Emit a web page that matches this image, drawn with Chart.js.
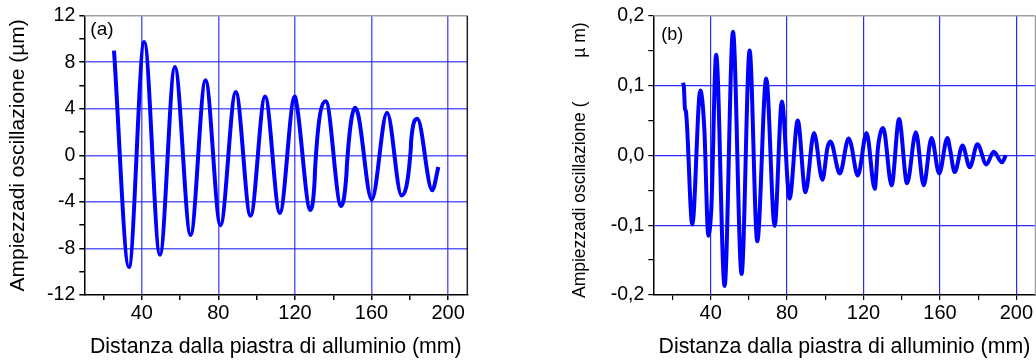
<!DOCTYPE html>
<html>
<head>
<meta charset="utf-8">
<script src="https://cdn.jsdelivr.net/npm/chart.js@4.4.1/dist/chart.umd.min.js"></script>
<style>
  body { margin: 0; background: #fff; }
  .box { position: absolute; top: 0; height: 360px; }
</style>
</head>
<body>
<div class="box" style="left:0;width:520px"><canvas id="chartA"></canvas></div>
<div class="box" style="left:520px;width:516px"><canvas id="chartB"></canvas></div>
<script>
// (a) posizione (mm) e ampiezza (µm)
const xA = [25.5, 33.3, 41.3, 49.5, 57.3, 65.5, 73.3, 81.1, 89.1, 96.8, 104.4, 112.1, 119.9, 121.2,
  128.1, 130.3, 130.5, 136.1, 144.1, 146.9, 147.1, 151.4, 153.1, 160.1, 168.1, 175.7, 180.5, 180.7,
  183.9, 191.7, 194.9];
const yA = [9.0, -9.6, 9.75, -8.55, 7.6, -6.85, 6.45, -6.0, 5.45, -5.2, 5.05, -4.95, 5.05, 4.1,
  -4.7, -2.1, -1.2, 4.65, -4.35, -1.6, -0.9, 4.1, 3.45, -3.8, 3.65, -3.45, 0.6, 1.3,
  3.15, -3.0, -1.0];

// (b) posizione (mm) e ampiezza (µm)
const xB = [25.5, 26.0, 26.6, 27.0, 30.4, 34.6, 36.7, 38.8, 40.4, 40.6, 42.9, 47.3, 51.7, 56.2,
  60.4, 64.4, 69.1, 73.5, 77.3, 81.3, 85.6, 89.6, 94.1, 98.5, 101.2, 102.7, 107.6, 112.2, 113.3,
  117.0, 121.6, 125.9, 127.6, 130.3, 134.7, 138.6, 142.8, 147.4, 151.5, 155.6, 159.6, 163.9, 165.2,
  167.7, 171.8, 175.6, 179.6, 184.3, 188.1, 192.5, 194.4];
const yB = [0.104, 0.098, 0.066, 0.064, -0.099, 0.093, 0.038, -0.115, -0.075, -0.06, 0.144, -0.187, 0.177, -0.170,
  0.150, -0.123, 0.110, -0.101, 0.077, -0.062, 0.050, -0.053, 0.032, -0.035, 0.012, 0.020, -0.026, 0.024, 0.018,
  -0.029, 0.032, -0.048, 0.012, 0.039, -0.043, 0.052, -0.040, 0.033, -0.043, 0.025, -0.026, 0.025, 0.010,
  -0.024, 0.014, -0.017, 0.016, -0.013, 0.005, -0.010, 0.0];

// tacche degli assi
const xTicks = [20, 40, 60, 80, 100, 120, 140, 160, 180, 200];
const yTicksA = [-12, -10, -8, -6, -4, -2, 0, 2, 4, 6, 8, 10, 12];
const yTicksB = [-0.2, -0.15, -0.1, -0.05, 0, 0.05, 0.1, 0.15, 0.2];

const FONT = "'Liberation Sans', Arial, sans-serif";
const BLUE = "#0000ff";

const framePlugin = {
  id: "frame",
  afterDatasetsDraw(chart, args, o) {
    const { ctx, chartArea: a } = chart;
    ctx.save();
    ctx.lineWidth = 1.5;
    ctx.strokeStyle = o.top;
    ctx.beginPath(); ctx.moveTo(a.left, a.top); ctx.lineTo(a.right, a.top); ctx.stroke();
    ctx.strokeStyle = o.right;
    ctx.beginPath(); ctx.moveTo(a.right, a.top); ctx.lineTo(a.right, a.bottom); ctx.stroke();
    ctx.fillStyle = "#000";
    ctx.font = o.font;
    ctx.textBaseline = "top";
    ctx.fillText(o.label, a.left + o.dx, a.top + o.dy);
    ctx.restore();
  }
};

function makeChart(id, xs, ys, cfg) {
  const isMajorY = v => Math.abs(v / cfg.yMajor - Math.round(v / cfg.yMajor)) < 1e-6;
  return new Chart(document.getElementById(id), {
    type: "line",
    data: {
      datasets: [{
        data: xs.map((x, i) => ({ x: x, y: ys[i] })),
        borderColor: BLUE,
        borderWidth: 4,
        pointRadius: 0,
        fill: false,
        cubicInterpolationMode: "monotone"
      }]
    },
    plugins: [framePlugin],
    options: {
      responsive: true,
      maintainAspectRatio: false,
      animation: false,
      layout: { padding: cfg.padding },
      plugins: {
        legend: { display: false },
        tooltip: { enabled: false },
        frame: cfg.frame
      },
      scales: {
        x: {
          type: "linear",
          min: 10, max: 210,
          afterBuildTicks: s => { s.ticks = xTicks.map(v => ({ value: v })); },
          afterFit: s => { s.height = 65; },
          border: { color: "#000", width: 1.5 },
          grid: {
            color: c => (c.tick && c.tick.value % 40 === 0) ? cfg.gridColor : "rgba(0,0,0,0)",
            lineWidth: cfg.gridWidth,
            tickColor: "#000",
            tickLength: 5
          },
          ticks: {
            autoSkip: false, maxRotation: 0, padding: 1, color: "#000",
            font: { family: FONT, size: 20 },
            callback: v => v % 40 === 0 ? String(v) : ""
          },
          title: {
            display: true, text: "Distanza dalla piastra di alluminio (mm)", color: "#000",
            font: { family: FONT, size: 21.3 }, padding: { top: 4, bottom: 0 }
          }
        },
        y: {
          min: cfg.yMin, max: cfg.yMax,
          afterBuildTicks: s => { s.ticks = cfg.yTicks.map(v => ({ value: v })); },
          afterFit: s => { s.width = cfg.yWidth; },
          border: { color: "#000", width: 1.5 },
          grid: {
            color: c => (c.tick && isMajorY(c.tick.value) && Math.abs(c.tick.value) < cfg.yMax - 1e-9) ? cfg.gridColor : "rgba(0,0,0,0)",
            lineWidth: cfg.gridWidth,
            tickColor: "#000",
            tickLength: 5
          },
          ticks: {
            autoSkip: false, padding: 4, color: "#000",
            font: { family: FONT, size: 19.5 },
            callback: v => isMajorY(v) ? cfg.fmt(v) : ""
          },
          title: {
            display: true, text: cfg.yTitle, color: "#000",
            font: { family: FONT, size: cfg.yTitleSize }, padding: { top: cfg.yTitlePad, bottom: 0 }
          }
        }
      }
    }
  });
}

makeChart("chartA", xA, yA, {
  padding: { left: 0, top: 15, right: 52.7, bottom: 0 },
  yWidth: 84.3, yMin: -12, yMax: 12, yMajor: 4, yTicks: yTicksA,
  fmt: v => String(v),
  yTitle: "Ampiezzadi oscillazione (µm)", yTitleSize: 21, yTitlePad: 6,
  gridColor: "rgba(40,40,255,0.75)", gridWidth: 1.5,
  frame: { top: "#a0a0a0", right: "#222", font: "19px " + FONT, label: "(a)", dx: 6, dy: 5 }
});

makeChart("chartB", xB, yB, {
  padding: { left: 46, top: 15, right: 0.5, bottom: 0 },
  yWidth: 87.3, yMin: -0.2, yMax: 0.2, yMajor: 0.1, yTicks: yTicksB,
  fmt: v => v.toFixed(1).replace(".", ","),
  yTitle: "Ampiezzadi oscillazione (         µ m)  ", yTitleSize: 17.5, yTitlePad: 4,
  gridColor: "rgba(20,20,255,0.9)", gridWidth: 1.2,
  frame: { top: "#a0a0a0", right: "#a0a0a0", font: "18px " + FONT, label: "(b)", dx: 8, dy: 10 }
});
</script>
</body>
</html>
